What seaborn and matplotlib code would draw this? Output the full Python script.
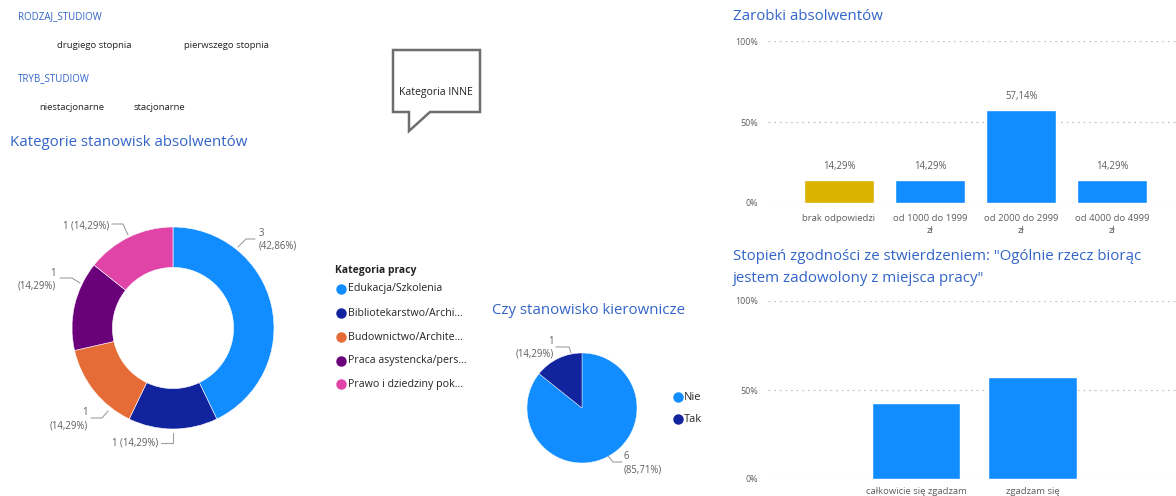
import numpy as np
import pandas as pd
import matplotlib
matplotlib.use('Agg')
import matplotlib.pyplot as plt
import seaborn as sns
from matplotlib.patches import Polygon
from matplotlib.lines import Line2D

W, H = 1176, 496

# dane do wykresów
kategorie = ['Edukacja/Szkolenia', 'Bibliotekarstwo/Archi...', 'Budownictwo/Archite...',
             'Praca asystencka/pers...', 'Prawo i dziedziny pok...']
kategorie_liczba = [3, 1, 1, 1, 1]
kategorie_kolory = ['#118DFF', '#12239E', '#E66C37', '#6B007B', '#E044A7']

kierownicze = ['Nie', 'Tak']
kierownicze_liczba = [6, 1]
kierownicze_kolory = ['#118DFF', '#12239E']

zarobki = ['brak odpowiedzi', 'od 1000 do 1999\nzł', 'od 2000 do 2999\nzł', 'od 4000 do 4999\nzł']
zarobki_proc = [14.29, 14.29, 57.14, 14.29]
zarobki_kolory = ['#D9B300', '#118DFF', '#118DFF', '#118DFF']

zadowolenie = ['całkowicie się zgadzam', 'zgadzam się']
zadowolenie_proc = [42.86, 57.14]

rodzaj_studiow = ['drugiego stopnia', 'pierwszego stopnia']
tryb_studiow = ['niestacjonarne', 'stacjonarne']

TITLE_C = '#3264C8'
LABEL_C = '#605E5C'
LINE_C = '#A19F9D'
TXT_C = '#252423'

sns.set_theme(style='white')
plt.rcParams['font.family'] = ['Open Sans', 'DejaVu Sans']

fig = plt.figure(figsize=(W / 100, H / 100), dpi=100)


def fx(x):
    return x / W


def fy(y):
    return 1 - y / H


def add_ax(left, top, right, bottom):
    return fig.add_axes([fx(left), fy(bottom), (right - left) / W, (bottom - top) / H])


def ftext(x, y, s, **kw):
    kw.setdefault('va', 'center')
    fig.text(fx(x), fy(y), s, **kw)


def fline(pts):
    xs = [fx(p[0]) for p in pts]
    ys = [fy(p[1]) for p in pts]
    fig.add_artist(Line2D(xs, ys, color=LINE_C, lw=0.8, transform=fig.transFigure))


def fmt(v):
    return f'{v:.2f}'.replace('.', ',') + '%'


# fragmentatory (slicery)
ftext(18, 17, 'RODZAJ_STUDIOW', color=TITLE_C, fontsize=7)
ftext(57, 45, rodzaj_studiow[0], color=TXT_C, fontsize=6.8)
ftext(184, 45, rodzaj_studiow[1], color=TXT_C, fontsize=6.8)
ftext(18, 79, 'TRYB_STUDIOW', color=TITLE_C, fontsize=7)
ftext(39, 108, tryb_studiow[0], color=TXT_C, fontsize=6.8)
ftext(134, 108, tryb_studiow[1], color=TXT_C, fontsize=6.8)

# dymek "Kategoria INNE"
dymek = [(393, 50), (480, 50), (480, 112), (430, 112), (409, 131), (409, 112), (393, 112)]
fig.add_artist(Polygon([(fx(x), fy(y)) for x, y in dymek], closed=True, facecolor='white',
                       edgecolor='#6E6E6E', lw=1.8, transform=fig.transFigure))
ftext(436, 92, 'Kategoria INNE', ha='center', color=TXT_C, fontsize=7.6)

# wykres pierścieniowy - kategorie stanowisk
ftext(10, 143, 'Kategorie stanowisk absolwentów', color=TITLE_C, fontsize=10.8)
ax1 = add_ax(23, 178, 323, 478)
ax1.pie(kategorie_liczba, colors=kategorie_kolory, startangle=90, counterclock=False,
        radius=1, wedgeprops=dict(width=0.4, edgecolor='white', linewidth=0.4))
ax1.set_xlim(-150 / 101, 150 / 101)
ax1.set_ylim(-150 / 101, 150 / 101)
ax1.set_aspect('equal')
ax1.axis('off')

suma = sum(kategorie_liczba)
p = [f'{n} ({fmt(n / suma * 100)})' for n in kategorie_liczba]
p2 = [f'{n}\n({fmt(n / suma * 100)})' for n in kategorie_liczba]
LS = dict(color=LABEL_C, fontsize=6.9, linespacing=1.25)
ftext(259, 240, p2[0], ha='left', multialignment='left', **LS)
fline([(238, 247), (246, 239), (255, 239)])
ftext(158, 443, p[1], ha='right', **LS)
fline([(161, 443), (173, 443), (173, 433)])
ftext(88, 419, p2[2], ha='right', multialignment='right', **LS)
fline([(91, 418), (102, 418), (108, 411)])
ftext(56, 280, p2[3], ha='right', multialignment='right', **LS)
fline([(60, 278), (72, 278), (80, 283)])
ftext(109, 226, p[4], ha='right', **LS)
fline([(112, 224), (123, 224), (128, 235)])

# legenda
ftext(335, 271, 'Kategoria pracy', color=TXT_C, fontsize=7.5, fontweight='bold')
for i, (nazwa, kolor) in enumerate(zip(kategorie, kategorie_kolory)):
    y = [289, 313, 337, 361, 384][i]
    fig.add_artist(Line2D([fx(341)], [fy(y)], marker='o', ms=6.5, color=kolor,
                          transform=fig.transFigure))
    ftext(348, y, nazwa, color=TXT_C, fontsize=7.7)

# wykres kołowy - czy stanowisko kierownicze
ftext(492, 311, 'Czy stanowisko kierownicze', color=TITLE_C, fontsize=10.8)
ax2 = add_ax(502, 328, 662, 488)
ax2.pie(kierownicze_liczba, colors=kierownicze_kolory, startangle=90, counterclock=False,
        radius=1, wedgeprops=dict(edgecolor='white', linewidth=0.3))
ax2.set_xlim(-80 / 55, 80 / 55)
ax2.set_ylim(-80 / 55, 80 / 55)
ax2.set_aspect('equal')
ax2.axis('off')
suma2 = sum(kierownicze_liczba)
k2 = [f'{n}\n({fmt(n / suma2 * 100)})' for n in kierownicze_liczba]
ftext(554, 348, k2[1], ha='right', multialignment='right', **LS)
fline([(556, 347), (569, 347), (571, 353)])
ftext(624, 463, k2[0], ha='left', multialignment='left', **LS)
fline([(608, 456), (613, 462), (622, 462)])
for i, (nazwa, kolor) in enumerate(zip(kierownicze, kierownicze_kolory)):
    y = [397, 419][i]
    fig.add_artist(Line2D([fx(678)], [fy(y)], marker='o', ms=6.5, color=kolor,
                          transform=fig.transFigure))
    ftext(684, y, nazwa, color=TXT_C, fontsize=7.9)


def styl_slupki(ax):
    ax.set_ylim(0, 100)
    ax.set_yticks([0, 50, 100])
    ax.set_yticklabels(['0%', '50%', '100%'])
    ax.yaxis.grid(True, linestyle=(0, (1.5, 3)), color='#C8C6C4', lw=0.9)
    ax.set_axisbelow(True)
    for s in ax.spines.values():
        s.set_visible(False)
    ax.tick_params(axis='both', length=0, labelsize=6.8, labelcolor=LABEL_C)
    ax.tick_params(axis='y', pad=7, labelsize=6.4)
    ax.set_xlabel('')
    ax.set_ylabel('')


# wykres słupkowy - zarobki
ftext(733, 17, 'Zarobki absolwentów', color=TITLE_C, fontsize=10.8)
ax3 = add_ax(768, 41, 1176, 203)
df_z = pd.DataFrame({'kat': zarobki, 'proc': zarobki_proc})
sns.barplot(data=df_z, x='kat', y='proc', hue='kat', palette=zarobki_kolory, legend=False,
            width=0.77, saturation=1, ax=ax3)
ax3.set_xlim(-0.78, 3.70)
styl_slupki(ax3)
ax3.tick_params(axis='x', pad=8)
for lbl in ax3.get_xticklabels():
    lbl.set_linespacing(1.45)
for i, v in enumerate(zarobki_proc):
    ax3.text(i, v + 5, fmt(v), ha='center', va='bottom', fontsize=6.9, color=LABEL_C)

# wykres słupkowy - zadowolenie
ftext(733, 257, 'Stopień zgodności ze stwierdzeniem: "Ogólnie rzecz biorąc', color=TITLE_C, fontsize=10.8)
ftext(733, 278, 'jestem zadowolony z miejsca pracy"', color=TITLE_C, fontsize=10.8)
ax4 = add_ax(768, 301, 1176, 479)
df_s = pd.DataFrame({'kat': zadowolenie, 'proc': zadowolenie_proc})
sns.barplot(data=df_s, x='kat', y='proc', color='#118DFF', width=0.76, saturation=1, ax=ax4)
ax4.set_xlim(-1.27, 2.23)
styl_slupki(ax4)
ax4.tick_params(axis='x', pad=6)

fig.savefig('out.png', dpi=100)
